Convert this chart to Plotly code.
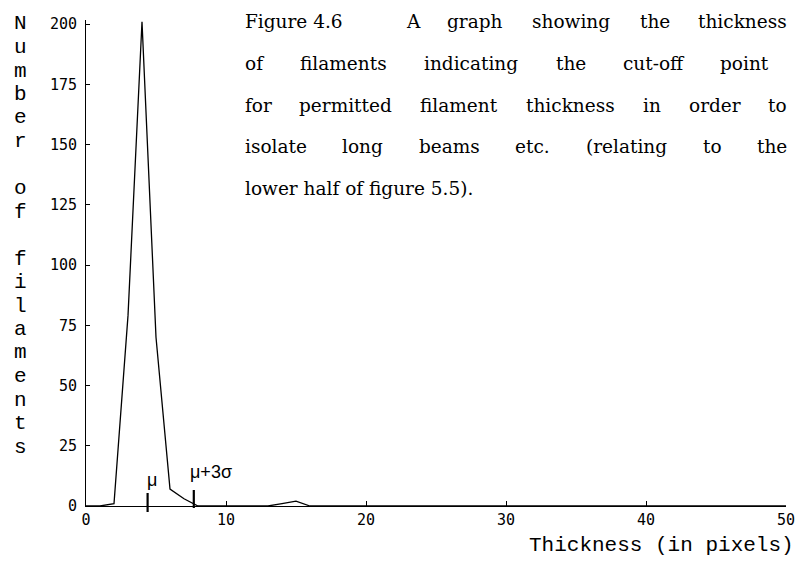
import plotly.graph_objects as go

# ---------------- data ----------------
thickness = [0, 1, 2, 3, 4, 5, 6, 7, 8, 9,
             10, 11, 12, 13, 14, 15, 16, 17, 18, 19,
             20, 21, 22, 23, 24, 25, 26, 27, 28, 29,
             30, 31, 32, 33, 34, 35, 36, 37, 38, 39,
             40, 41, 42, 43, 44, 45, 46, 47, 48, 49, 50]
counts = [0, 0, 1, 79, 201, 70, 7, 3, 0, 0,
          0, 0, 0, 0, 1, 2, 0, 0, 0, 0,
          0, 0, 0, 0, 0, 0, 0, 0, 0, 0,
          0, 0, 0, 0, 0, 0, 0, 0, 0, 0,
          0, 0, 0, 0, 0, 0, 0, 0, 0, 0, 0]
mu = 4.4
sigma = 1.1
x_ticks = [0, 10, 20, 30, 40, 50]
y_ticks = [0, 25, 50, 75, 100, 125, 150, 175, 200]
y_title = "Number of filaments"
x_title = "Thickness (in pixels)"
caption_lines = [
    ["A", "graph", "showing", "the", "thickness"],
    ["of", "filaments", "indicating", "the", "cut-off", "point"],
    ["for", "permitted", "filament", "thickness", "in", "order", "to"],
    ["isolate", "long", "beams", "etc.", "(relating", "to", "the"],
    ["lower half of figure 5.5)."],
]
caption_label = "Figure 4.6"

# ---------------- geometry ----------------
W, H = 796, 569
ML, MR, MT, MB = 86, 10, 20, 63
PW, PH = W - ML - MR, H - MT - MB


def px_to_paper_x(px):
    return (px - ML) / PW


def py_to_paper_y(py):
    return (H - MB - py) / PH


# approximate DejaVu Serif advance widths (em)
EM = {' ': .318, '(': .390, ')': .390, '-': .338, '.': .318, 'A': .722, 'F': .715,
      'a': .596, 'b': .640, 'c': .559, 'd': .640, 'e': .592, 'f': .370, 'g': .640,
      'h': .644, 'i': .320, 'k': .610, 'l': .320, 'm': .948, 'n': .644, 'o': .602,
      'p': .640, 'r': .478, 's': .513, 't': .402, 'u': .644, 'w': .855}
CAP_FS = 18.5


def text_w(s):
    return sum(EM.get(c, .636) for c in s) * CAP_FS


fig = go.Figure()
fig.add_trace(go.Scatter(x=thickness, y=counts, mode="lines",
                         line=dict(color="black", width=1.3), hoverinfo="skip"))

annotations = []
cap_font = dict(family="DejaVu Serif", size=CAP_FS, color="black")
line_y = [22, 63.5, 105, 146.5, 188]
left_edges = [405, 244, 244, 244, 244]
right_edges = [788, 770, 788, 788, None]


def cap_ann(text, x, y, anc):
    return dict(text=text, x=px_to_paper_x(x), y=py_to_paper_y(y), xref="paper",
                yref="paper", xanchor=anc, yanchor="middle", showarrow=False,
                font=cap_font, borderpad=0)


annotations.append(cap_ann(caption_label, 244, line_y[0], "left"))
for words, yc, L, R in zip(caption_lines, line_y, left_edges, right_edges):
    if R is None or len(words) == 1:
        annotations.append(cap_ann(words[0], L, yc, "left"))
        continue
    widths = [text_w(w) for w in words]
    gap = (R - L - sum(widths)) / (len(words) - 1)
    pos = L
    for i, (w, wd) in enumerate(zip(words, widths)):
        if i == 0:
            annotations.append(cap_ann(w, pos, yc, "left"))
        elif i == len(words) - 1:
            annotations.append(cap_ann(w, R, yc, "right"))
        else:
            annotations.append(cap_ann(w, pos + wd / 2, yc, "center"))
        pos += wd + gap

# vertical y-axis title, one letter per row
mono = "Liberation Mono"
row = 0
for ch in y_title:
    if ch != " ":
        yc = 24 + 23.5 * row
        annotations.append(dict(text=ch, x=px_to_paper_x(20), y=py_to_paper_y(yc),
                                xref="paper", yref="paper", xanchor="center",
                                yanchor="middle", showarrow=False,
                                font=dict(family=mono, size=21, color="black"),
                                borderpad=0))
    row += 1

# x-axis title
annotations.append(dict(text=x_title, x=px_to_paper_x(795), y=py_to_paper_y(545),
                        xref="paper", yref="paper", xanchor="right", yanchor="middle",
                        showarrow=False, font=dict(family=mono, size=21, color="black"),
                        borderpad=0))

# mu and mu+3sigma labels
greek_font = dict(family="Liberation Sans", size=18, color="black")
annotations.append(dict(text="\u03bc", x=mu, y=py_to_paper_y(480), xref="x", yref="paper",
                        xanchor="center", yanchor="middle", xshift=4, showarrow=False,
                        font=greek_font, borderpad=0))
annotations.append(dict(text="\u03bc+3\u03c3", x=mu + 3 * sigma, y=py_to_paper_y(472),
                        xref="x", yref="paper", xanchor="left", yanchor="middle",
                        xshift=-5, showarrow=False, font=greek_font, borderpad=0))

shapes = [
    dict(type="line", xref="x", yref="paper", x0=mu, x1=mu,
         y0=-6 / PH, y1=13 / PH, line=dict(color="black", width=2.2)),
    dict(type="line", xref="x", yref="paper", x0=mu + 3 * sigma, x1=mu + 3 * sigma,
         y0=-2 / PH, y1=16 / PH, line=dict(color="black", width=2.2)),
]

tick_font = dict(family="DejaVu Sans Mono", size=15, color="black")
fig.update_layout(
    width=W, height=H,
    margin=dict(l=ML, r=MR, t=MT, b=MB, pad=0, autoexpand=False),
    paper_bgcolor="white", plot_bgcolor="white",
    showlegend=False,
    annotations=annotations,
    shapes=shapes,
    xaxis=dict(range=[0, 50], tickvals=x_ticks, ticktext=[str(v) for v in x_ticks],
               ticks="inside", ticklen=5, tickwidth=1, tickcolor="black",
               showline=True, linecolor="black", linewidth=1, showgrid=False,
               zeroline=False, tickfont=tick_font, fixedrange=True, automargin=False),
    yaxis=dict(range=[0, 201.7], tickvals=y_ticks, ticktext=[str(v) for v in y_ticks],
               ticks="inside", ticklen=4, tickwidth=1, tickcolor="black",
               showline=True, linecolor="black", linewidth=1, showgrid=False,
               zeroline=False, tickfont=tick_font, fixedrange=True, automargin=False,
               ticklabelstandoff=5),
)

fig.write_html(
    "out.html",
    config={"displayModeBar": False},
    post_script="document.body.style.margin='0';document.body.style.overflow='hidden';",
)
